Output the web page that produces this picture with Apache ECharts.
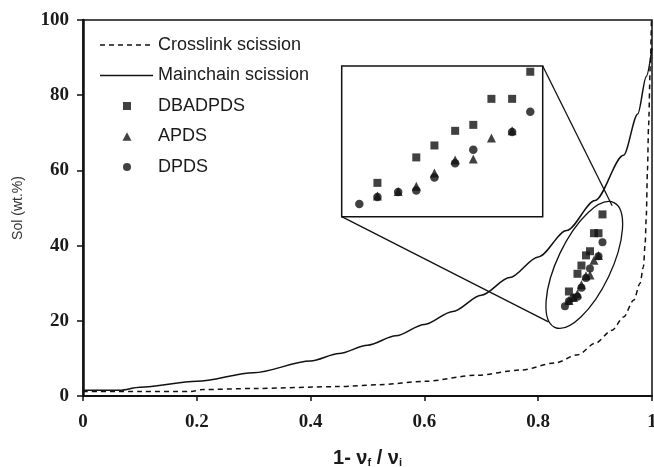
<!DOCTYPE html>
<html>
<head>
<meta charset="utf-8">
<script src="https://cdn.jsdelivr.net/npm/echarts@6/dist/echarts.min.js"></script>
<style>html,body{margin:0;padding:0;background:#fff}#c{width:654px;height:467px}</style>
</head>
<body>
<div id="c"></div>
<script>
// ---- data ----
const crossX = [0, 0.1, 0.19, 0.21, 0.3, 0.45, 0.52, 0.6, 0.69, 0.77, 0.83, 0.87, 0.9, 0.93, 0.95, 0.968, 0.979, 0.985, 0.988, 0.990, 0.992, 0.994, 0.997, 0.999];
const crossY = [1.2, 1.2, 1.2, 1.7, 2.0, 2.5, 3.0, 3.9, 5.5, 6.9, 8.8, 11, 14, 17.5, 21, 25.5, 30, 34.4, 40.6, 48, 60, 72, 88, 100];
const mainX = [0, 0.065, 0.1, 0.2, 0.3, 0.4, 0.45, 0.5, 0.55, 0.6, 0.65, 0.7, 0.75, 0.8, 0.85, 0.9, 0.95, 0.975, 0.99, 1.0];
const mainY = [1.5, 1.5, 2.3, 3.9, 6.2, 9.3, 11.3, 13.5, 16.0, 19.0, 22.5, 26.8, 31.5, 37.0, 44.0, 52.0, 64.0, 75.0, 85.0, 92.5];
const sampleX = [0.847, 0.854, 0.862, 0.869, 0.876, 0.884, 0.891, 0.898, 0.906, 0.913];
const dbadpds = [null, 27.8, null, 32.5, 34.7, 37.4, 38.5, 43.3, 43.3, 48.3];
const apds    = [null, 25.4, 26.2, 27.2, 29.6, 32.0, 32.2, 36.1, 37.4, null];
const dpds    = [23.9, 25.2, 26.1, 26.4, 28.8, 31.4, 33.9, null, 37.2, 40.9];
const xTicks = [0, 0.2, 0.4, 0.6, 0.8, 1];
const yTicks = [0, 20, 40, 60, 80, 100];
// inset (zoom) ranges
const insetX = [0.8402, 0.9178];
const insetY = [21.56, 49.36];
// ellipse annotation (data coords of centre) and connector end points
const ellipseC = [0.881, 34.85];
const ellipseTop = [0.930, 50.6];
const ellipseBot = [0.818, 19.7];

const pairs = (xs, ys) => xs.map((x, i) => [x, ys[i]]).filter(p => p[1] !== null);

const chart = echarts.init(document.getElementById('c'), null, {renderer: 'canvas'});
const ink = '#111';
const tickFont = {fontFamily: 'Liberation Serif', fontWeight: 'bold', fontSize: 19, color: '#1a1a1a'};

// legend icons (bounding box 53 x 9 so nothing is stretched)
const BOX = 'M0,0 M53,9 ';
const iconDash = 'path://' + BOX + [0, 9, 18, 27, 36, 45].map(x => `M${x},3.75h5v1.5h-5z`).join(' ');
const iconSolid = 'path://' + BOX + 'M0,3.75h53v1.5h-53z';
const iconRect = 'path://' + BOX + 'M23,0.5h8v8h-8z';
const iconTri = 'path://' + BOX + 'M22.5,8.8L27,0.2L31.5,8.8z';
const iconCirc = 'path://' + BOX + 'M23,4.5A4,4 0 1,1 31,4.5A4,4 0 1,1 23,4.5z';

function scat(name, data, symbol, size, gi) {
  return {
    name, type: 'scatter', xAxisIndex: gi, yAxisIndex: gi, data, symbol, symbolSize: size,
    itemStyle: {color: ink}, z: 5
  };
}

chart.setOption({
  animation: false,
  backgroundColor: '#fff',
  grid: [
    {left: 83, top: 20, right: 2, bottom: 71, show: true, borderColor: ink, borderWidth: 1.5,
     containLabel: false, outerBoundsMode: 'none'},
    {left: 341.7, top: 66, width: 201, height: 150.7, show: true, borderColor: ink, borderWidth: 1.5,
     backgroundColor: 'transparent', containLabel: false, outerBoundsMode: 'none'}
  ],
  xAxis: [
    {gridIndex: 0, type: 'value', min: 0, max: 1, interval: 0.2,
     axisLine: {show: true, lineStyle: {color: ink, width: 2}},
     axisTick: {show: true, length: 5, lineStyle: {color: ink, width: 1.5}},
     splitLine: {show: false},
     axisLabel: {margin: 17, ...tickFont, formatter: v => (v === 0 || v === 1) ? String(v) : v.toFixed(1)},
     name: '{a|1- ν}{s|f}{a| / ν}{s|i}', nameLocation: 'middle', nameGap: 51,
     nameTextStyle: {rich: {
       a: {fontFamily: 'Liberation Sans', fontWeight: 'bold', fontSize: 20, color: '#1a1a1a', lineHeight: 22},
       s: {fontFamily: 'Liberation Sans', fontWeight: 'bold', fontSize: 11, color: '#1a1a1a', lineHeight: 22, padding: [10, 0, 0, 0]}
     }}},
    {gridIndex: 1, type: 'value', min: insetX[0], max: insetX[1], show: false}
  ],
  yAxis: [
    {gridIndex: 0, type: 'value', min: 0, max: 100, interval: 20,
     axisLine: {show: true, lineStyle: {color: ink, width: 2.5}},
     axisTick: {show: true, length: 6, lineStyle: {color: ink, width: 1.5}},
     splitLine: {show: false},
     axisLabel: {margin: 14, ...tickFont},
     name: 'Sol (wt.%)', nameLocation: 'middle', nameGap: 58,
     nameTextStyle: {fontFamily: 'Liberation Sans', fontSize: 14, color: '#333'}},
    {gridIndex: 1, type: 'value', min: insetY[0], max: insetY[1], show: false}
  ],
  legend: {
    orient: 'vertical', left: 100, top: 36, padding: 0,
    itemWidth: 53, itemHeight: 9, itemGap: 12.5,
    itemStyle: {color: ink, borderWidth: 0},
    textStyle: {fontFamily: 'Liberation Sans', fontSize: 18, lineHeight: 18, color: '#1a1a1a'},
    data: [
      {name: 'Crosslink scission', icon: iconDash},
      {name: 'Mainchain scission', icon: iconSolid},
      {name: 'DBADPDS', icon: iconRect},
      {name: 'APDS', icon: iconTri},
      {name: 'DPDS', icon: iconCirc}
    ]
  },
  series: [
    {name: 'Crosslink scission', type: 'line', data: pairs(crossX, crossY), symbol: 'none',
     smooth: 0.3, smoothMonotone: 'x', clip: true, itemStyle: {color: ink},
     lineStyle: {color: ink, width: 1.5, type: [5, 4]}},
    {name: 'Mainchain scission', type: 'line', data: pairs(mainX, mainY), symbol: 'none',
     smooth: 0.3, smoothMonotone: 'x', clip: true, itemStyle: {color: ink},
     lineStyle: {color: ink, width: 1.5}},
    scat('DBADPDS', pairs(sampleX, dbadpds), 'rect', 8, 0),
    scat('APDS', pairs(sampleX, apds), 'triangle', 9, 0),
    scat('DPDS', pairs(sampleX, dpds), 'circle', 8, 0),
    scat('DBADPDS', pairs(sampleX, dbadpds), 'rect', 8, 1),
    scat('APDS', pairs(sampleX, apds), 'triangle', 9, 1),
    scat('DPDS', pairs(sampleX, dpds), 'circle', 8.5, 1)
  ]
});

// annotation: ellipse around the data cluster and zoom connector lines
const c = chart.convertToPixel({gridIndex: 0}, ellipseC);
const eTop = chart.convertToPixel({gridIndex: 0}, ellipseTop);
const eBot = chart.convertToPixel({gridIndex: 0}, ellipseBot);
const insTR = chart.convertToPixel({gridIndex: 1}, [insetX[1], insetY[1]]);
const insBL = chart.convertToPixel({gridIndex: 1}, [insetX[0], insetY[0]]);
chart.setOption({
  graphic: [
    {type: 'ellipse', x: c[0], y: c[1], rotation: -0.443, shape: {cx: 0, cy: 0, rx: 27, ry: 69},
     style: {fill: 'none', stroke: ink, lineWidth: 1.3}, z: 10},
    {type: 'line', shape: {x1: insTR[0], y1: insTR[1], x2: eTop[0], y2: eTop[1]},
     style: {stroke: ink, lineWidth: 1.3}, z: 10},
    {type: 'line', shape: {x1: insBL[0], y1: insBL[1], x2: eBot[0], y2: eBot[1]},
     style: {stroke: ink, lineWidth: 1.3}, z: 10}
  ]
});
</script>
</body>
</html>
